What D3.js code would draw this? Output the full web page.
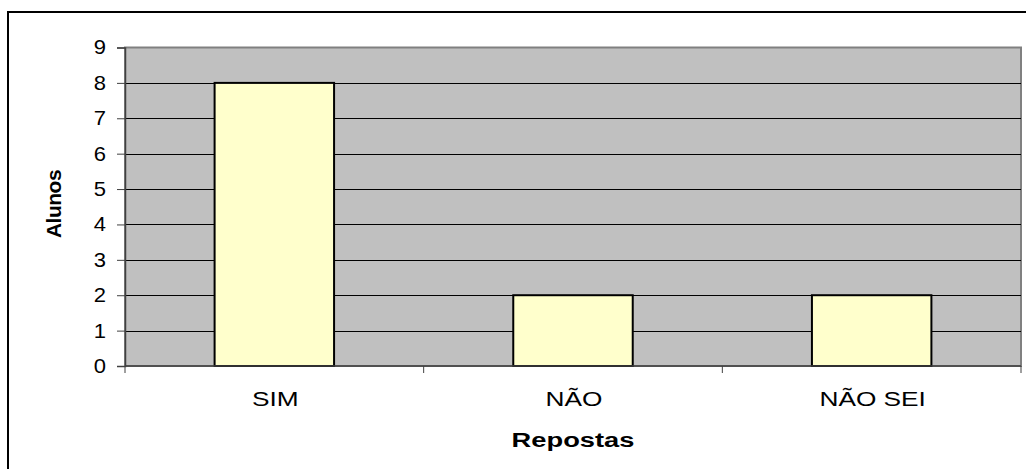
<!DOCTYPE html>
<html><head><meta charset="utf-8">
<script src="https://cdn.jsdelivr.net/npm/d3@7"></script>
<style>body{margin:0;background:#fff}svg{display:block}text{font-family:Arial,"Liberation Sans",sans-serif}</style>
</head><body><div id="c"></div>
<script>
const categories = ["SIM", "NÃO", "NÃO SEI"];
const values = [8, 2, 2];
const yTicks = [0,1,2,3,4,5,6,7,8,9];
const xTitle = "Repostas";
const yTitle = "Alunos";

const W = 1026, H = 469;
const m = {left:125, right:1021, top:47.5, bottom:366};
const svg = d3.select("#c").append("svg").attr("width", W).attr("height", H);

svg.append("rect").attr("x",8).attr("y",12).attr("width",W+10).attr("height",H+10)
  .attr("fill","#fff").attr("stroke","#000").attr("stroke-width",2);

const x = d3.scaleBand().domain(categories).range([m.left, m.right]).paddingInner(0.6).paddingOuter(0.3);
const xb = d3.scaleBand().domain(categories).range([m.left, m.right]);
const y = d3.scaleLinear().domain([0,9]).range([m.bottom, m.top]);

svg.append("rect").attr("x",m.left).attr("y",m.top).attr("width",m.right-m.left).attr("height",m.bottom-m.top)
  .attr("fill","#C0C0C0").attr("stroke","#808080").attr("stroke-width",2);

svg.append("g").selectAll("line").data(yTicks.filter(d=>d>0&&d<9)).join("line")
  .attr("x1",m.left).attr("x2",m.right).attr("y1",d=>Math.round(y(d))+0.5).attr("y2",d=>Math.round(y(d))+0.5)
  .attr("stroke","#000").attr("stroke-width",1);

svg.append("g").selectAll("rect").data(values).join("rect")
  .attr("x",(d,i)=>x(categories[i])).attr("width",x.bandwidth())
  .attr("y",d=>y(d)).attr("height",d=>y(0)-y(d))
  .attr("fill","#FFFFCC").attr("stroke","#000").attr("stroke-width",2);

// y axis
const ya = svg.append("g").attr("transform",`translate(${m.left},0)`)
  .call(d3.axisLeft(y).tickValues(yTicks).tickSize(8).tickPadding(10).tickFormat(d3.format("d")));
ya.attr("font-size",20).attr("font-family","Arial, 'Liberation Sans', sans-serif");
ya.select(".domain").attr("stroke","#404040").attr("stroke-width",1.5);
ya.selectAll(".tick line").attr("stroke","#404040");
ya.selectAll("text").attr("fill","#000").attr("transform","scale(1.1,1)").attr("x",-18/1.1*1.0-1);

// x axis
const xa = svg.append("g").attr("transform",`translate(0,${m.bottom})`);
xa.append("line").attr("x1",m.left).attr("x2",m.right).attr("stroke","#404040").attr("stroke-width",1.5);
xa.selectAll("line.t").data(categories.concat(["_end"])).join("line").attr("class","t")
  .attr("x1",(d,i)=>i<3?xb(d):m.right).attr("x2",(d,i)=>i<3?xb(d):m.right)
  .attr("y1",0).attr("y2",7).attr("stroke","#404040");
xa.selectAll("text").data(categories).join("text")
  .attr("transform",d=>`translate(${xb(d)+xb.bandwidth()/2+1},40) scale(1.25,1)`)
  .attr("text-anchor","middle").attr("font-size",21).text(d=>d);

svg.append("text").attr("transform",`translate(${(m.left+m.right)/2},447) scale(1.3,1)`)
  .attr("text-anchor","middle").attr("font-size",21).attr("font-weight","bold").text(xTitle);
svg.append("text").attr("transform",`translate(61,204) rotate(-90)`)
  .attr("text-anchor","middle").attr("font-size",21).attr("font-weight","bold")
  .attr("letter-spacing",-0.5).text(yTitle);
</script></body></html>
